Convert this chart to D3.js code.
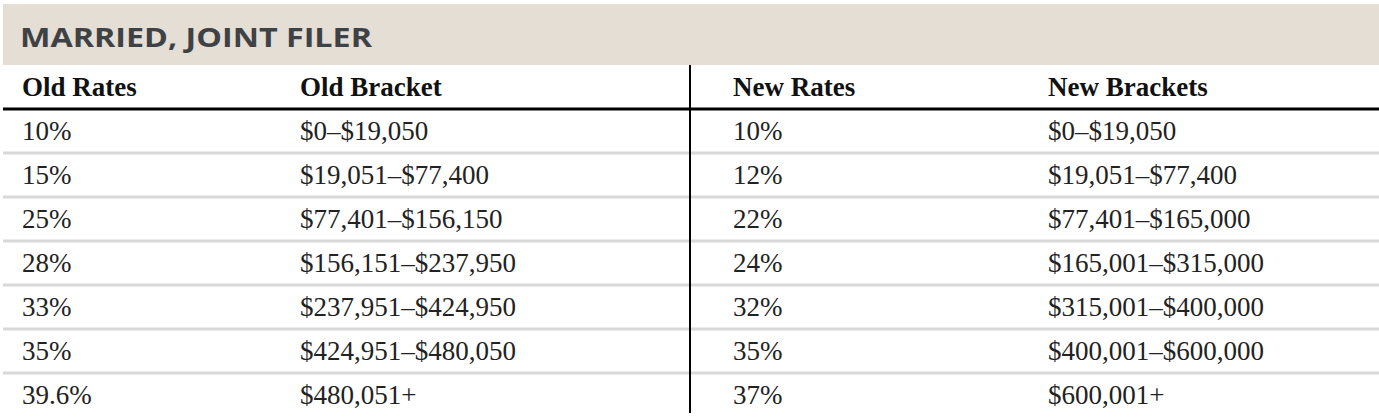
<!DOCTYPE html><html><head><meta charset="utf-8"><script src="https://cdn.jsdelivr.net/npm/d3@7"></script>
<style>body{margin:0;background:#fff}</style></head><body><svg id="c" width="1379" height="417"></svg><script>
const title="MARRIED, JOINT FILER";
const headers=["Old Rates","Old Bracket","New Rates","New Brackets"];
const oldRates=["10%","15%","25%","28%","33%","35%","39.6%"];
const oldBrackets=["$0–$19,050","$19,051–$77,400","$77,401–$156,150","$156,151–$237,950","$237,951–$424,950","$424,951–$480,050","$480,051+"];
const newRates=["10%","12%","22%","24%","32%","35%","37%"];
const newBrackets=["$0–$19,050","$19,051–$77,400","$77,401–$165,000","$165,001–$315,000","$315,001–$400,000","$400,001–$600,000","$600,001+"];
const svg=d3.select("#c");
svg.append("rect").attr("x",3).attr("y",4).attr("width",1376).attr("height",61).attr("fill","#e4ded5");
svg.append("text").attr("x",20).attr("y",47).text(title).attr("font-family","'Open Sans',sans-serif").attr("font-weight","bold").attr("font-size",27).attr("fill","#3f4245").attr("textLength",352).attr("lengthAdjust","spacingAndGlyphs");
const colX=[22,300,733,1048];
const y=d3.scaleBand().domain(d3.range(8)).range([65,417]);
svg.selectAll("line.g").data(d3.range(2,8)).join("line").attr("x1",3).attr("x2",1379).attr("y1",d=>y(d)).attr("y2",d=>y(d)).attr("stroke","#d8d8d8").attr("stroke-width",3);
svg.append("line").attr("x1",3).attr("x2",1379).attr("y1",y(1)).attr("y2",y(1)).attr("stroke","#000").attr("stroke-width",3);
svg.append("line").attr("x1",690).attr("x2",690).attr("y1",65).attr("y2",413).attr("stroke","#000").attr("stroke-width",2);
const font="'Liberation Serif','Times New Roman',serif";
svg.selectAll("text.h").data(headers).join("text").attr("x",(d,i)=>colX[i]).attr("y",y(0)+y.bandwidth()/2+9).text(d=>d).attr("font-family",font).attr("font-weight","bold").attr("font-size",27).attr("fill","#111");
const cols=[oldRates,oldBrackets,newRates,newBrackets];
cols.forEach((arr,ci)=>{
 svg.selectAll("text.c"+ci).data(arr).join("text").attr("x",colX[ci]).attr("y",(d,i)=>y(i+1)+y.bandwidth()/2+9).text(d=>d).attr("font-family",font).attr("font-size",27).attr("fill","#222");
});
</script></body></html>
